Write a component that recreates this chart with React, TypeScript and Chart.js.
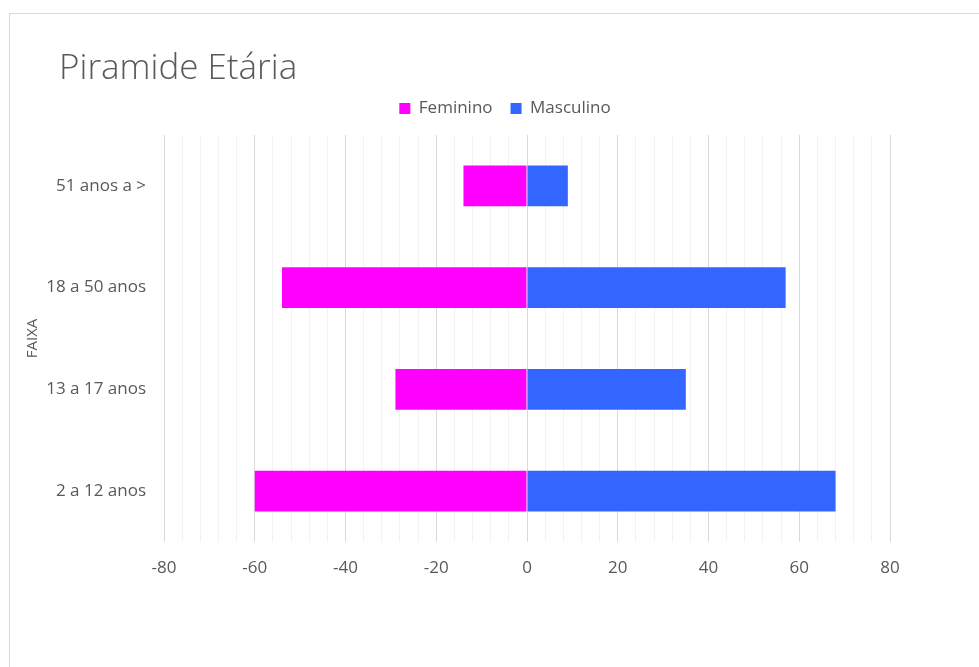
import { useEffect, useRef } from 'react';
import { Chart, registerables } from 'chart.js';

Chart.register(...registerables);

const TITLE = 'Piramide Etária';
const AXIS_TITLE = 'FAIXA';
const categories = ['51 anos a >', '18 a 50 anos', '13 a 17 anos', '2 a 12 anos'];
const feminino = [-14, -54, -29, -60];
const masculino = [9, 57, 35, 68];
const xMin = -80;
const xMax = 80;
const minorStep = 4;
const majorStep = 20;

const FONT = '"Open Sans", "Noto Sans", sans-serif';
const TEXT = '#595959';

const titlePlugin = {
  id: 'customTitle',
  afterDraw(chart: any) {
    const ctx = chart.ctx;
    ctx.save();
    ctx.font = `300 35px ${FONT}`;
    ctx.fillStyle = TEXT;
    ctx.textBaseline = 'middle';
    ctx.textAlign = 'left';
    ctx.fillText(TITLE, 49, 55);
    ctx.restore();
  },
};

export default function App() {
  const ref = useRef<HTMLCanvasElement | null>(null);

  useEffect(() => {
    if (!ref.current) return;
    const chart = new Chart(ref.current, {
      type: 'bar',
      data: {
        labels: categories,
        datasets: [
          { label: 'Feminino', data: feminino, backgroundColor: '#FF00FF', barPercentage: 0.4, categoryPercentage: 1 },
          { label: 'Masculino', data: masculino, backgroundColor: '#3366FF', barPercentage: 0.4, categoryPercentage: 1 },
        ],
      },
      options: {
        indexAxis: 'y',
        animation: false,
        responsive: true,
        maintainAspectRatio: false,
        layout: { padding: { top: 68, left: 10, right: 10, bottom: 0 } },
        plugins: {
          title: { display: false },
          tooltip: { enabled: false },
          legend: {
            display: true,
            position: 'top',
            labels: {
              boxWidth: 11,
              boxHeight: 11,
              padding: 18,
              color: TEXT,
              font: { family: FONT, size: 17 },
            },
          },
        },
        scales: {
          x: {
            type: 'linear',
            stacked: true,
            min: xMin,
            max: xMax,
            border: { display: false },
            grid: {
              drawTicks: false,
              color: (c: any) => (c.tick && c.tick.value % majorStep === 0 ? '#d9d9d9' : '#f2f2f2'),
              lineWidth: 1,
            },
            ticks: {
              stepSize: minorStep,
              autoSkip: false,
              maxRotation: 0,
              padding: 16,
              color: TEXT,
              font: { family: FONT, size: 17 },
              callback: (v: any) => (Number(v) % majorStep === 0 ? String(v) : ''),
            },
            afterFit: (s: any) => {
              s.height = 150;
            },
          },
          xTopSpacer: {
            type: 'linear',
            position: 'top',
            min: 0,
            max: 1,
            border: { display: false },
            grid: { display: false, drawTicks: false },
            ticks: { display: false },
            afterFit: (s: any) => {
              s.height = 8;
            },
          },
          y: {
            stacked: true,
            border: { display: false },
            grid: { display: false, drawTicks: false },
            ticks: {
              padding: 18,
              color: TEXT,
              font: { family: FONT, size: 17 },
            },
            title: {
              display: true,
              text: AXIS_TITLE,
              color: TEXT,
              font: { family: FONT, size: 15 },
              padding: { top: 4, bottom: 4 },
            },
            afterFit: (s: any) => {
              s.width = 144;
            },
          },
          yRightSpacer: {
            type: 'linear',
            position: 'right',
            min: 0,
            max: 1,
            border: { display: false },
            grid: { display: false, drawTicks: false },
            ticks: { display: false },
            afterFit: (s: any) => {
              s.width = 100;
            },
          },
        },
      },
      plugins: [titlePlugin],
    });
    return () => chart.destroy();
  }, []);

  return (
    <div style={{ position: 'absolute', left: 0, top: 0, width: 979, height: 667, overflow: 'hidden', background: '#fff' }}>
      <div
        style={{
          position: 'absolute',
          left: 9,
          top: 13,
          width: 992,
          height: 680,
          border: '1px solid #d9d9d9',
          boxSizing: 'border-box',
        }}
      >
        <canvas ref={ref} />
      </div>
    </div>
  );
}
